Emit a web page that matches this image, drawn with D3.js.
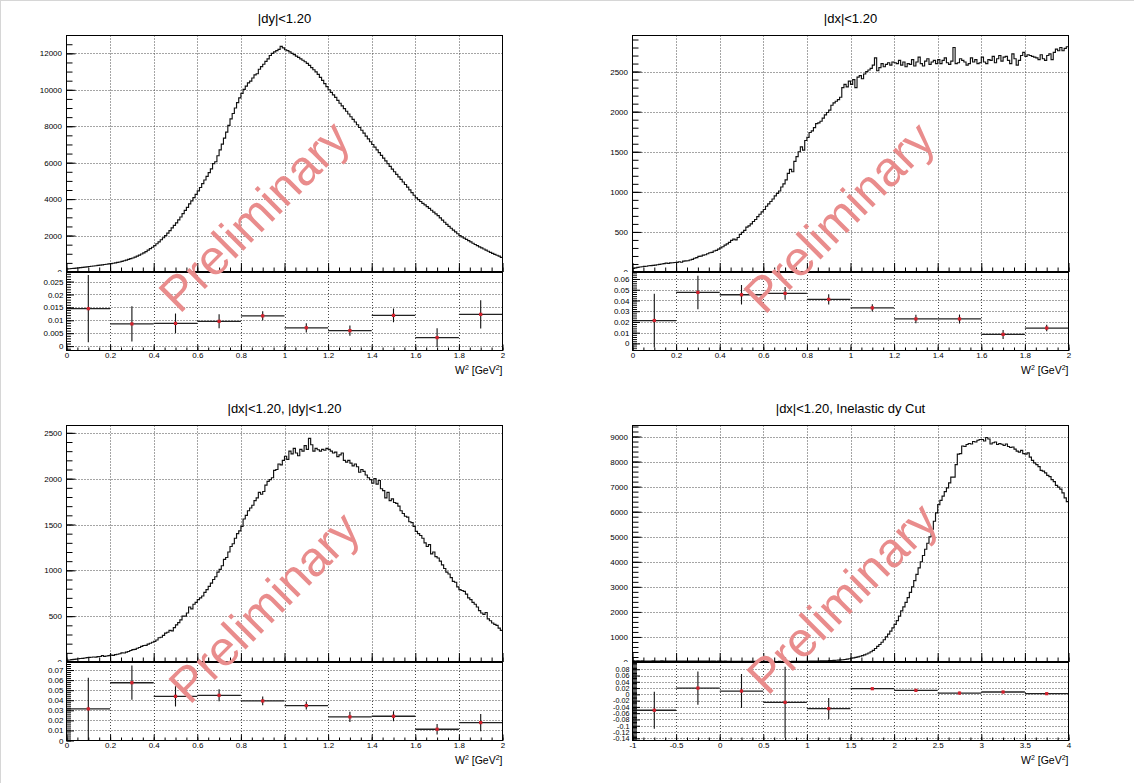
<!DOCTYPE html>
<html><head><meta charset="utf-8">
<script src="https://cdn.jsdelivr.net/npm/d3@7"></script>
<style>
body{margin:0;background:#fff}
svg{display:block;background:#fff}
text{font-family:"Liberation Sans",Arial,Helvetica,sans-serif}
</style>
</head><body>
<svg id="c" width="1134" height="783"></svg>
<script>
// ---------------- DATA ----------------
const titles = ["|dy|<1.20", "|dx|<1.20", "|dx|<1.20, |dy|<1.20", "|dx|<1.20, Inelastic dy Cut"];
const axisTitleMain = "W";
const axisTitleUnit = "GeV";
const watermarkText = "Preliminary";

// counts per bin, W^2 0..2 in 200 bins
const histTL = [
170,180,190,200,215,230,240,255,270,285,300,315,330,345,362,380,395,410,428,445,
460,480,500,525,550,580,615,650,690,730,770,820,870,930,990,1050,1120,1200,1280,1360,
1450,1550,1650,1770,1880,2000,2130,2270,2420,2560,2700,2860,3020,3200,3380,3550,3740,3900,4080,4260,
4450,4640,4850,5050,5250,5450,5660,5950,6050,6380,6700,7020,7350,7680,8050,8400,8700,9000,9300,9560,
9800,10020,10200,10380,10480,10650,10820,10880,11130,11270,11400,11560,11700,11880,12000,12080,12150,12220,12380,12300,
12200,12150,12080,12000,11930,11850,11780,11700,11620,11540,11450,11340,11220,11100,10980,10850,10680,10520,10340,10170,
10000,9860,9720,9580,9420,9260,9120,8970,8820,8670,8520,8380,8230,8080,7930,7780,7620,7460,7310,7150,
7000,6850,6700,6550,6400,6250,6100,5950,5800,5650,5500,5360,5220,5080,4940,4800,4660,4510,4360,4210,
4070,3970,3870,3770,3680,3590,3490,3390,3290,3190,3090,2970,2850,2730,2610,2500,2400,2300,2200,2100,
2000,1930,1860,1790,1720,1650,1580,1510,1450,1380,1320,1260,1200,1140,1080,1020,970,920,870,800
];
const histTR = [
45,52,58,62,66,70,72,78,80,83,85,90,96,100,105,110,108,114,116,118,
120,128,122,135,138,140,150,158,172,180,195,198,210,215,228,240,245,262,270,285,
300,315,335,350,370,395,410,400,430,470,495,520,560,575,600,630,655,690,720,750,
780,820,850,880,910,950,980,1010,1060,1100,1150,1230,1280,1250,1380,1440,1500,1560,1520,1640,
1680,1740,1760,1800,1850,1860,1880,1920,1960,1990,2020,2080,2110,2130,2150,2180,2300,2340,2310,2380,
2340,2400,2300,2430,2450,2410,2470,2500,2520,2540,2580,2670,2510,2550,2600,2560,2590,2610,2580,2620,
2610,2600,2640,2580,2620,2560,2600,2590,2650,2570,2620,2680,2600,2570,2630,2660,2590,2620,2640,2600,
2650,2600,2640,2670,2610,2590,2630,2800,2600,2610,2660,2640,2620,2580,2600,2670,2620,2650,2600,2610,
2680,2620,2600,2650,2640,2690,2610,2660,2700,2630,2680,2690,2640,2600,2720,2660,2580,2640,2700,2740,
2690,2710,2700,2690,2680,2670,2650,2710,2660,2640,2700,2720,2650,2740,2780,2760,2800,2760,2790,2810
];
const histBL = [
20,22,26,28,32,35,38,40,44,47,50,52,55,54,58,60,70,62,66,70,
75,72,80,85,90,100,98,108,115,125,135,138,150,158,170,180,182,195,205,215,
225,240,265,270,290,315,325,345,340,375,405,430,460,500,500,535,600,580,630,650,
680,700,720,760,790,825,860,900,930,980,1010,1050,1120,1140,1200,1260,1290,1350,1400,1430,
1480,1560,1600,1650,1680,1710,1760,1790,1850,1830,1860,1930,1970,1990,2010,2090,2100,2160,2150,2200,
2245,2210,2300,2270,2330,2280,2250,2320,2300,2360,2320,2440,2370,2300,2330,2315,2300,2320,2310,2330,
2320,2300,2280,2290,2240,2260,2280,2200,2180,2200,2170,2140,2160,2130,2070,2100,2080,2040,2010,1990,
1950,2000,1940,1980,1890,1870,1790,1850,1760,1780,1740,1730,1700,1650,1620,1590,1580,1530,1520,1480,
1425,1400,1380,1350,1300,1260,1280,1180,1200,1150,1135,1100,1060,1020,980,960,920,880,870,820,
790,780,770,740,700,680,650,630,600,560,535,520,540,470,450,425,410,400,370,345
];
// counts per bin, W^2 -1..4 in 200 bins
const histBR = [
45,40,42,38,44,40,36,41,39,43,38,40,37,42,39,36,40,38,41,37,
39,36,38,35,40,37,34,38,36,33,37,35,32,36,34,31,35,33,30,34,
32,30,33,29,31,28,30,27,29,26,28,25,27,24,26,23,25,22,24,22,
21,23,20,22,19,21,20,22,19,21,20,22,21,23,22,24,23,25,26,28,
30,32,33,35,37,40,42,44,47,50,54,58,62,68,74,82,90,100,112,130,
150,165,185,205,230,255,285,320,360,410,465,540,625,700,790,890,1000,1110,1230,1360,
1500,1650,1830,2040,2200,2380,2570,2780,3000,3250,3500,3760,4000,4250,4500,4740,5000,5300,5620,5950,
6280,6450,6620,6800,6950,7150,7380,7380,7880,8300,8320,8620,8600,8680,8720,8700,8800,8780,8850,8880,
8880,8820,8960,8900,8700,8750,8780,8680,8720,8690,8640,8700,8600,8560,8580,8500,8420,8380,8450,8320,
8300,8350,8180,8050,7950,7880,7800,7650,7620,7550,7450,7400,7280,7200,7050,6980,6900,6750,6550,6400
];

// ratio panels: 10 bins each
const ratioTL = [0.0145,0.0086,0.0088,0.0096,0.0117,0.0071,0.0060,0.0119,0.0033,0.0123];
const ratioErrTL = [0.0130,0.0068,0.0038,0.0027,0.0018,0.0018,0.0020,0.0027,0.0036,0.0055];
const ratioTR = [0.0213,0.0475,0.0453,0.0466,0.0410,0.0331,0.0228,0.0228,0.0084,0.0143];
const ratioErrTR = [0.025,0.0156,0.009,0.006,0.0047,0.0033,0.004,0.0042,0.0042,0.003];
const ratioBL = [0.0314,0.0574,0.0439,0.0449,0.0393,0.0347,0.0235,0.0241,0.0112,0.0178];
const ratioErrBL = [0.031,0.017,0.010,0.006,0.0043,0.004,0.005,0.005,0.0053,0.0085];
const ratioBR = [-0.0507,0.020,0.0105,-0.0254,-0.0454,0.018,0.0127,0.004,0.0074,0.0021];
const ratioErrBR = [0.059,0.053,0.054,0.113,0.034,0.003,0.004,0.004,0.004,0.003];

// ---------------- LAYOUT ----------------
const panels = [
  {title:titles[0], hist:histTL, ratio:ratioTL, err:ratioErrTL,
   x0:66.5, x1:502.5, dy:0, xDomain:[0,2], xMajor:0.2, xMinor:0.05,
   yU:[0,12980], yUMajor:2000, yUMinor:500, yUTicks:[0,12000],
   yL:[-0.0017,0.0287], yLMajor:0.005, yLMinor:0.001, yLTicks:[0,0.025], yLFont:8,
   wm:[254,216]},
  {title:titles[1], hist:histTR, ratio:ratioTR, err:ratioErrTR,
   x0:632.5, x1:1068.5, dy:0, xDomain:[0,2], xMajor:0.2, xMinor:0.05,
   yU:[0,2950], yUMajor:500, yUMinor:100, yUTicks:[0,2500],
   yL:[-0.0066,0.0665], yLMajor:0.01, yLMinor:0.002, yLTicks:[0,0.06], yLFont:8,
   wm:[839,217]},
  {title:titles[2], hist:histBL, ratio:ratioBL, err:ratioErrBL,
   x0:66.5, x1:502.5, dy:390, xDomain:[0,2], xMajor:0.2, xMinor:0.05,
   yU:[0,2580], yUMajor:500, yUMinor:100, yUTicks:[0,2500],
   yL:[0,0.078], yLMajor:0.01, yLMinor:0.002, yLTicks:[0,0.07], yLFont:8,
   wm:[264,607]},
  {title:titles[3], hist:histBR, ratio:ratioBR, err:ratioErrBR,
   x0:632.5, x1:1068.5, dy:390, xDomain:[-1,4], xMajor:0.5, xMinor:0.125,
   yU:[0,9440], yUMajor:1000, yUMinor:200, yUTicks:[0,9000],
   yL:[-0.147,0.103], yLMajor:0.02, yLMinor:0.004, yLTicks:[-0.14,0.08], yLFont:7.2,
   wm:[842,598]}
];

const svg = d3.select("#c");
// thin grey border of the canvas
svg.append("line").attr("x1",0).attr("x2",1134).attr("y1",0.5).attr("y2",0.5).attr("stroke","#d6d6d6");
svg.append("line").attr("x1",0.5).attr("x2",0.5).attr("y1",0).attr("y2",783).attr("stroke","#d6d6d6");

function ticksBetween(lo, hi, step){
  const s = Math.ceil(lo/step - 1e-9), e = Math.floor(hi/step + 1e-9);
  return d3.range(s, e+1).map(i => +(i*step).toFixed(6));
}
const fmt = d => String(+(+d).toFixed(6));
const GRID = "#4a4a4a";

panels.forEach((p, pi) => {
  const uTop = 35.5 + p.dy, uBot = 272 + p.dy, lTop = 272 + p.dy, lBot = 350.5 + p.dy;
  const g = svg.append("g");
  const x = d3.scaleLinear().domain(p.xDomain).range([p.x0, p.x1]);
  const yU = d3.scaleLinear().domain(p.yU).range([uBot, uTop]);
  const yL = d3.scaleLinear().domain(p.yL).range([lBot, lTop]);

  // clip paths
  const defs = g.append("defs");
  defs.append("clipPath").attr("id","cu"+pi).append("rect")
    .attr("x",p.x0).attr("y",uTop).attr("width",p.x1-p.x0).attr("height",uBot-uTop);
  defs.append("clipPath").attr("id","cl"+pi).append("rect")
    .attr("x",p.x0).attr("y",lTop).attr("width",p.x1-p.x0).attr("height",lBot-lTop);
  // local coords of the translated upper y-axis group: label "0" is partly hidden by lower pad
  defs.append("clipPath").attr("id","cy"+pi).append("rect")
    .attr("x",-45).attr("y",uTop-10).attr("width",65).attr("height",uBot-uTop+10);

  const xMaj = ticksBetween(p.xDomain[0], p.xDomain[1], p.xMajor);
  const xMin = ticksBetween(p.xDomain[0], p.xDomain[1], p.xMinor);
  const yUMaj = ticksBetween(p.yUTicks[0], p.yUTicks[1], p.yUMajor);
  const yUMin = ticksBetween(p.yU[0], p.yU[1], p.yUMinor);
  const yLMaj = ticksBetween(p.yLTicks[0], p.yLTicks[1], p.yLMajor);
  const yLMin = ticksBetween(p.yL[0], p.yL[1], p.yLMinor);

  // ---- grids ----
  const grid = g.append("g").attr("stroke",GRID).attr("stroke-width",1).attr("stroke-dasharray","1 2").attr("fill","none");
  xMaj.filter(v => Math.abs(x(v)-p.x0) > 1 && Math.abs(x(v)-p.x1) > 1).forEach(v => {
    const xx = Math.round(x(v)) + 0.5;
    grid.append("line").attr("x1",xx).attr("x2",xx).attr("y1",uTop).attr("y2",uBot);
    grid.append("line").attr("x1",xx).attr("x2",xx).attr("y1",lTop).attr("y2",lBot);
  });
  yUMaj.filter(v => Math.abs(yU(v)-uBot) > 1.5).forEach(v => {
    const yy = Math.round(yU(v)) + 0.5;
    grid.append("line").attr("x1",p.x0).attr("x2",p.x1).attr("y1",yy).attr("y2",yy);
  });
  yLMaj.filter(v => Math.abs(yL(v)-lBot) > 1.5 && Math.abs(yL(v)-lTop) > 1.5).forEach(v => {
    const yy = Math.round(yL(v)) + 0.5;
    grid.append("line").attr("x1",p.x0).attr("x2",p.x1).attr("y1",yy).attr("y2",yy);
  });

  // ---- histogram ----
  const n = p.hist.length, w = (p.xDomain[1]-p.xDomain[0])/n;
  const pts = [];
  p.hist.forEach((v,i) => { const lo = p.xDomain[0] + i*w; pts.push([lo,v],[lo+w,v]); });
  g.append("path").attr("clip-path","url(#cu"+pi+")")
    .attr("d", d3.line().x(d => x(d[0])).y(d => yU(d[1]))(pts))
    .attr("fill","none").attr("stroke","#111").attr("stroke-width",1.15);

  // ---- ratio points ----
  const rn = p.ratio.length, rw = (p.xDomain[1]-p.xDomain[0])/rn;
  const rg = g.append("g").attr("clip-path","url(#cl"+pi+")");
  p.ratio.forEach((v,i) => {
    const lo = p.xDomain[0] + i*rw, c = lo + rw/2, e = p.err[i];
    rg.append("line").attr("x1",x(lo)).attr("x2",x(lo+rw)).attr("y1",yL(v)).attr("y2",yL(v))
      .attr("stroke","#222").attr("stroke-width",1.3);
    rg.append("line").attr("x1",x(c)).attr("x2",x(c)).attr("y1",yL(v-e)).attr("y2",yL(v+e))
      .attr("stroke","#111").attr("stroke-width",1.1);
    rg.append("rect").attr("x",x(c)-1.6).attr("y",yL(v)-1.6).attr("width",3.2).attr("height",3.2)
      .attr("fill","#d4202c");
  });

  // ---- axes ----
  const axisStyle = (sel, fs) => { sel.select(".domain").remove(); sel.selectAll("line").attr("stroke","#000"); sel.selectAll("text").attr("font-size",fs || 8).attr("fill","#000"); };
  // upper y
  const ayU = g.append("g").attr("transform",`translate(${p.x0},0)`).attr("clip-path","url(#cy"+pi+")");
  ayU.call(d3.axisLeft(yU).tickValues(yUMin).tickSize(-6).tickFormat("")).call(axisStyle);
  ayU.append("g").call(d3.axisLeft(yU).tickValues(yUMaj).tickSize(-9).tickPadding(4.5).tickFormat(fmt)).call(axisStyle);
  // lower y
  const ayL = g.append("g").attr("transform",`translate(${p.x0},0)`);
  ayL.call(d3.axisLeft(yL).tickValues(yLMin).tickSize(-4.5).tickFormat("")).call(axisStyle);
  ayL.append("g").call(d3.axisLeft(yL).tickValues(yLMaj).tickSize(-7.5).tickPadding(3).tickFormat(fmt)).call(axisStyle, p.yLFont);
  // upper x (ticks only)
  const axU = g.append("g").attr("transform",`translate(0,${uBot})`);
  axU.call(d3.axisBottom(x).tickValues(xMin).tickSize(-4.5).tickFormat("")).call(axisStyle);
  axU.append("g").call(d3.axisBottom(x).tickValues(xMaj).tickSize(-9).tickFormat("")).call(axisStyle);
  // lower x
  const axL = g.append("g").attr("transform",`translate(0,${lBot})`);
  axL.call(d3.axisBottom(x).tickValues(xMin).tickSize(-3).tickFormat("")).call(axisStyle);
  axL.append("g").call(d3.axisBottom(x).tickValues(xMaj).tickSize(-6).tickPadding(2).tickFormat(fmt)).call(axisStyle);

  // ---- frames ----
  g.append("rect").attr("x",p.x0).attr("y",uTop).attr("width",p.x1-p.x0).attr("height",uBot-0.5-uTop)
    .attr("fill","none").attr("stroke","#000").attr("stroke-width",1);
  g.append("rect").attr("x",p.x0).attr("y",lTop+0.5).attr("width",p.x1-p.x0).attr("height",lBot-lTop-0.5)
    .attr("fill","none").attr("stroke","#000").attr("stroke-width",1);

  // ---- title ----
  g.append("text").attr("x",(p.x0+p.x1)/2).attr("y",23 + p.dy).attr("text-anchor","middle")
    .attr("font-size",13).attr("fill","#000").text(p.title);

  // ---- x axis title ----
  const t = g.append("text").attr("x",p.x1).attr("y",374 + p.dy).attr("text-anchor","end")
    .attr("font-size",10.5).attr("fill","#000");
  t.append("tspan").text(axisTitleMain);
  t.append("tspan").attr("font-size",7).attr("dy",-4).text("2");
  t.append("tspan").attr("dy",4).text(" [" + axisTitleUnit);
  t.append("tspan").attr("font-size",7).attr("dy",-4).text("2");
  t.append("tspan").attr("dy",4).text("]");

  // ---- watermark ----
  g.append("text").attr("transform",`translate(${p.wm[0]},${p.wm[1]}) rotate(-45)`)
    .attr("text-anchor","middle").attr("dominant-baseline","central")
    .attr("font-size",49).attr("fill","rgb(233,140,140)").text(watermarkText);
});
</script>
</body></html>
